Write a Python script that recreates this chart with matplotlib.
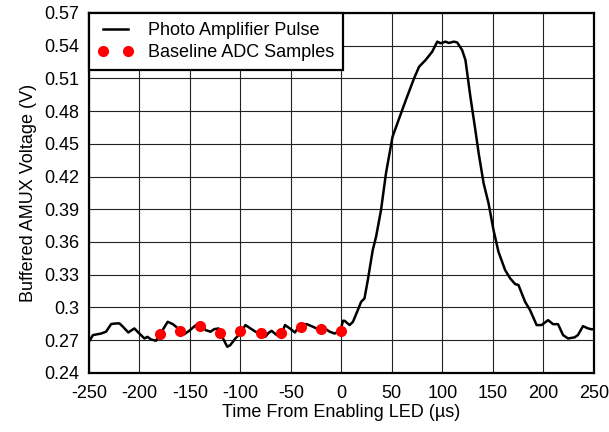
import matplotlib
matplotlib.use("Agg")
import matplotlib.pyplot as plt
import numpy as np

plt.rcParams['font.family'] = ['Liberation Sans', 'DejaVu Sans']
plt.rcParams['axes.unicode_minus'] = False

# photo amplifier pulse trace
pulse_t = [-250, -246, -238, -233, -228, -223, -219.7, -216, -211, -205, -200, -195, -192,
           -188.5, -183.6, -179.6, -172, -167, -162, -156, -151, -144, -139, -134.5, -129.5,
           -126, -121.6, -118, -113, -110, -105, -100, -95, -90, -85, -80, -75.4, -72, -69,
           -64, -59, -55.8, -51, -46, -41, -34.6, -29.7, -23, -16.4, -11.5, -6.6, -0.7,
           1.6, 3.2, 8.2, 11.5, 16.3, 19.6, 22.9, 26.2, 31.1, 34.4, 39.3, 44.2, 50.7, 57.3,
           63.9, 72, 77, 83.5, 90, 95, 98.3, 103.2, 106.5, 111.4, 114.7, 119.6, 122.9, 127.8,
           132.7, 136, 140.9, 145.8, 150.7, 155.6, 162.2, 167.2, 172.1, 175.4, 182, 186.9,
           193.4, 198.3, 204.8, 209.7, 214.6, 219.6, 224.5, 231, 234.3, 239.3, 244.1, 247.4, 250]
pulse_v = [0.2685, 0.2746, 0.276, 0.2777, 0.2847, 0.2853, 0.2853, 0.282, 0.277, 0.2807, 0.276,
           0.2715, 0.273, 0.2706, 0.2694, 0.2752, 0.2868, 0.2847, 0.281, 0.2752, 0.2783, 0.2838,
           0.2847, 0.2792, 0.2777, 0.280, 0.2807, 0.273, 0.2639, 0.2654, 0.2715, 0.276, 0.2838,
           0.2807, 0.2777, 0.276, 0.273, 0.2767, 0.2785, 0.2746, 0.276, 0.2838, 0.2807, 0.277,
           0.2838, 0.2847, 0.2829, 0.280, 0.2807, 0.2777, 0.276, 0.279,
           0.2877, 0.2877, 0.2838, 0.2868, 0.2975, 0.3051, 0.3082, 0.325, 0.3526, 0.3648, 0.3893,
           0.423, 0.4565, 0.4734, 0.4902, 0.510, 0.5207, 0.5269, 0.5345, 0.5437, 0.5422, 0.5437,
           0.5425, 0.5437, 0.543, 0.536, 0.5269, 0.4932, 0.4627, 0.4413, 0.4138, 0.3954, 0.3709,
           0.351, 0.3342, 0.3266, 0.3214, 0.3205, 0.3051, 0.2975, 0.2838, 0.2838, 0.2883, 0.2846,
           0.2846, 0.2746, 0.2715, 0.2725, 0.2746, 0.2828, 0.2808, 0.280, 0.280]

# baseline ADC samples
adc_t = [-180, -160, -140, -120, -100, -80, -60, -40, -20, 0]
adc_v = [0.2752, 0.2783, 0.2831, 0.2767, 0.2783, 0.2767, 0.2761, 0.2817, 0.2798, 0.2783]

x_ticks = [-250, -200, -150, -100, -50, 0, 50, 100, 150, 200, 250]
y_ticks = [0.24, 0.27, 0.30, 0.33, 0.36, 0.39, 0.42, 0.45, 0.48, 0.51, 0.54, 0.57]

fig = plt.figure(figsize=(6.09, 4.32), dpi=100)
ax = fig.add_axes([0.146, 0.137, 0.829, 0.833])

ax.plot(pulse_t, pulse_v, color='black', lw=1.8, label='Photo Amplifier Pulse', zorder=3)
ax.plot(adc_t, adc_v, 'o', color='red', ms=7, label='Baseline ADC Samples', zorder=4)

ax.set_xlim(-250, 250)
ax.set_ylim(0.24, 0.57)
ax.set_xticks(x_ticks)
ax.set_yticks(y_ticks)
ax.set_yticklabels(['%g' % v for v in y_ticks])
ax.tick_params(length=0, labelsize=13)
ax.tick_params(axis='x', pad=9)
ax.tick_params(axis='y', pad=7)
ax.grid(True, color='#222222', lw=0.8)
ax.set_axisbelow(True)
for s in ax.spines.values():
    s.set_linewidth(1.6)

ax.set_xlabel('Time From Enabling LED (µs)', fontsize=13, labelpad=1)
ax.set_ylabel('Buffered AMUX Voltage (V)', fontsize=13, labelpad=5)

leg = ax.legend(loc='upper left', fontsize=13, numpoints=2, fancybox=False, framealpha=1,
                edgecolor='black', borderaxespad=0, handlelength=1.95, handletextpad=0.8,
                borderpad=0.5, labelspacing=0.3)
leg.get_frame().set_linewidth(1.6)

fig.savefig('out.png', dpi=100)
